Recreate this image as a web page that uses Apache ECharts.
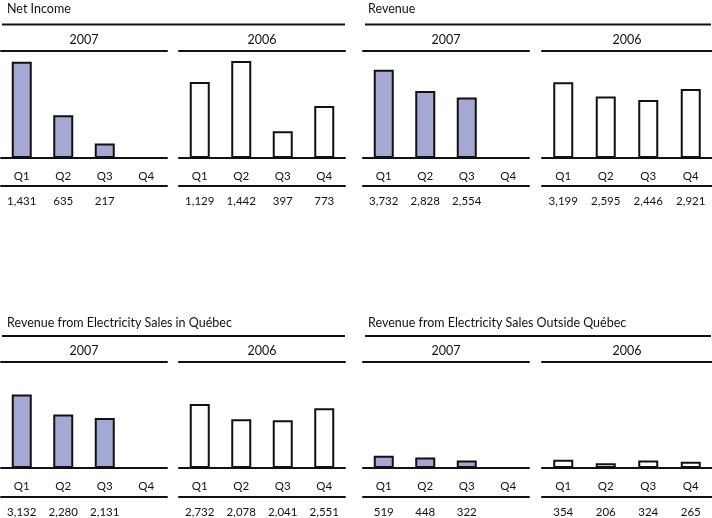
<!DOCTYPE html>
<html><head><meta charset="utf-8">
<script src="https://cdn.jsdelivr.net/npm/echarts@6/dist/echarts.min.js"></script>
<style>html,body{margin:0;padding:0;background:#fff}#c{width:712px;height:518px}</style>
</head><body><div id="c"></div>
<script>
const quarters = ['Q1', 'Q2', 'Q3', 'Q4'];
const years = ['2007', '2006'];
const panelTitles = ['Net Income', 'Revenue', 'Revenue from Electricity Sales in Québec', 'Revenue from Electricity Sales Outside Québec'];
const netIncome2007 = [1431, 635, 217, null];
const netIncome2006 = [1129, 1442, 397, 773];
const revenue2007 = [3732, 2828, 2554, null];
const revenue2006 = [3199, 2595, 2446, 2921];
const quebec2007 = [3132, 2280, 2131, null];
const quebec2006 = [2732, 2078, 2041, 2551];
const outside2007 = [519, 448, 322, null];
const outside2006 = [354, 206, 324, 265];

const FONT = 'Lato';
const rows = [
  { titleY: 7.5, topLineY: 24.5, gridTop: 51, qOffset: 28 },
  { titleY: 321, topLineY: 336, gridTop: 362, qOffset: 29 }
];
const cols = [
  { titleX: 7, lx1: 2, lx2: 345, subs: [{ left: 1, width: 166 }, { left: 179, width: 166 }] },
  { titleX: 368, lx1: 365, lx2: 711, subs: [{ left: 363, width: 166 }, { left: 542, width: 170 }] }
];
const panels = [
  { title: panelTitles[0], data: [netIncome2007, netIncome2006], max: 1591, row: 0, col: 0 },
  { title: panelTitles[1], data: [revenue2007, revenue2006], max: 4522, row: 0, col: 1 },
  { title: panelTitles[2], data: [quebec2007, quebec2006], max: 4522, row: 1, col: 0 },
  { title: panelTitles[3], data: [outside2007, outside2006], max: 4522, row: 1, col: 1 }
];
const fmt = v => v == null ? '' : v.toLocaleString('en-US');

const grid = [], xAxis = [], yAxis = [], series = [], graphic = [];
panels.forEach(p => {
  const r = rows[p.row], c = cols[p.col];
  graphic.push({ type: 'text', left: c.titleX, top: r.titleY - 5,
    style: { text: p.title, fontFamily: FONT, fontSize: 12.5, fill: '#111' } });
  graphic.push({ type: 'line', shape: { x1: c.lx1, y1: r.topLineY, x2: c.lx2, y2: r.topLineY },
    style: { stroke: '#111', lineWidth: 2 } });
  p.data.forEach((vals, k) => {
    const gi = grid.length;
    const s = c.subs[k];
    grid.push({ left: s.left, width: s.width, top: r.gridTop, height: 107 });
    const axLine = { show: true, onZero: false, lineStyle: { color: '#111', width: 2 } };
    xAxis.push({ type: 'category', gridIndex: gi, position: 'bottom', data: quarters,
      axisLine: axLine, axisTick: { show: false },
      axisLabel: { margin: 12, color: '#111', fontFamily: FONT, fontSize: 11.5 } });
    xAxis.push({ type: 'category', gridIndex: gi, position: 'bottom', offset: r.qOffset,
      data: vals.map(fmt), axisLine: axLine, axisTick: { show: false },
      axisLabel: { margin: 9, color: '#111', fontFamily: FONT, fontSize: 11.5, interval: 0 } });
    xAxis.push({ type: 'category', gridIndex: gi, position: 'top', data: quarters,
      axisLine: axLine, axisTick: { show: false }, axisLabel: { show: false },
      name: years[k], nameLocation: 'middle', nameGap: 5,
      nameTextStyle: { color: '#111', fontFamily: FONT, fontSize: 12.5 } });
    yAxis.push({ type: 'value', gridIndex: gi, min: 0, max: p.max, show: false, splitLine: { show: false } });
    series.push({ type: 'bar', xAxisIndex: gi * 3, yAxisIndex: gi, data: vals, barWidth: 20,
      silent: true, animation: false,
      itemStyle: { color: k === 0 ? '#a4a9d3' : '#ffffff', borderColor: '#111', borderWidth: 2 } });
  });
});

const chart = echarts.init(document.getElementById('c'), null, { renderer: 'canvas' });
chart.setOption({ animation: false, backgroundColor: '#fff', grid, xAxis, yAxis, series, graphic });
</script></body></html>
